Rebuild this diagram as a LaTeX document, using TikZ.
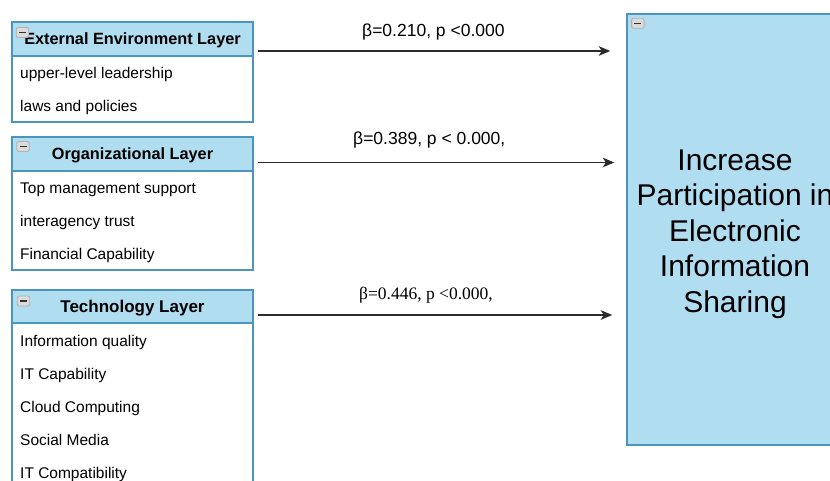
\documentclass[tikz,border=0pt]{standalone}
\usepackage{fontspec}
\setmainfont{Liberation Sans}
\newfontfamily\timesfont{Liberation Serif}
\usetikzlibrary{arrows.meta}
\definecolor{fillblue}{HTML}{B1DDF0}
\definecolor{strokeblue}{HTML}{4B96C0}
\definecolor{linegray}{HTML}{2B2B2B}
\begin{document}
\begin{tikzpicture}[x=1pt,y=-1pt,
  frame/.style={draw=strokeblue, line width=1.4pt, fill=white, minimum width=241pt,
    anchor=north west, inner sep=0pt, outer sep=0pt},
  hdr/.style={draw=strokeblue, line width=1.4pt, fill=fillblue, minimum width=241pt,
    minimum height=34pt, anchor=north west, inner sep=0pt, outer sep=0pt,
    text height=12pt, text depth=0pt,
    font=\fontsize{16.3}{19}\selectfont\bfseries},
  item/.style={anchor=base west, inner sep=0pt, font=\fontsize{15.5}{18}\selectfont},
  icon/.style={draw=gray!60, fill=gray!28, rounded corners=2pt, minimum width=12.5pt,
    minimum height=10pt, inner sep=0pt, line width=0.9pt,
    path picture={\draw[line width=1.5pt, black!80]
      ([xshift=-3.5pt]path picture bounding box.center) --
      ([xshift=3.5pt]path picture bounding box.center);}},
  outbox/.style={draw=strokeblue, line width=1.4pt, fill=fillblue, minimum width=216pt,
    minimum height=431pt, inner sep=0pt},
  outtext/.style={inner sep=0pt, align=center, font=\fontsize{30}{35.5}\selectfont},
  arr/.style={draw=linegray, line width=1.4pt, -{Stealth[length=11.5pt, width=9.5pt, inset=3pt]}},
  lbl/.style={anchor=base west, inner sep=0pt, font=\fontsize{17.5}{20}\selectfont}
]
\useasboundingbox (0,0) rectangle (830,481);
\clip (0,0) rectangle (830,481);
\fill[white] (0,0) rectangle (830,481);

% output box
\node[outbox] (out) at (735,229.5) {};
\node[outtext] (outt) at (735,234) {Increase\\Participation in\\Electronic\\Information\\Sharing};
\node[icon] (icout) at ([shift={(11.5,10)}]out.north west) {};

% External Environment Layer
\node[frame, minimum height=100pt] (ext) at (12,22) {};
\node[hdr] (exth) at (ext.north west) {External Environment Layer};
\node[icon] (ic1) at ([shift={(10.5,10.5)}]ext.north west) {};
\node[item] (e1) at ([shift={(8,56.3)}]ext.north west) {upper-level leadership};
\node[item] (e2) at ([shift={(8,89.3)}]ext.north west) {laws and policies};

% Organizational Layer
\node[frame, minimum height=133pt] (org) at (12,137) {};
\node[hdr] (orgh) at (org.north west) {Organizational Layer};
\node[icon] (ic2) at ([shift={(11,9.5)}]org.north west) {};
\node[item] (o1) at ([shift={(8,56.3)}]org.north west) {Top management support};
\node[item] (o2) at ([shift={(8,89.3)}]org.north west) {interagency trust};
\node[item] (o3) at ([shift={(8,122.3)}]org.north west) {Financial Capability};

% Technology Layer
\node[frame, minimum height=220pt] (tech) at (12,290) {};
\node[hdr, minimum height=33pt, font=\fontsize{17}{20}\selectfont\bfseries] (techh) at (tech.north west) {Technology Layer};
\node[icon] (ic3) at ([shift={(11.5,11)}]tech.north west) {};
\node[item] (t1) at ([shift={(8,56.3)}]tech.north west) {Information quality};
\node[item] (t2) at ([shift={(8,89.3)}]tech.north west) {IT Capability};
\node[item] (t3) at ([shift={(8,122.3)}]tech.north west) {Cloud Computing};
\node[item] (t4) at ([shift={(8,155.3)}]tech.north west) {Social Media};
\node[item] (t5) at ([shift={(8,188.3)}]tech.north west) {IT Compatibility};

% connectors
\draw[arr] ([xshift=5pt]ext.east |- 0,51) -- ([xshift=-16pt]out.west |- 0,51);
\draw[arr] ([xshift=5pt]org.east |- 0,162.5) -- ([xshift=-12pt]out.west |- 0,162.5);
\draw[arr] ([xshift=5pt]tech.east |- 0,315) -- ([xshift=-14pt]out.west |- 0,315);

% labels
\node[lbl] (l1) at (362,37) {β=0.210, p <0.000};
\node[lbl] (l2) at (353,145) {β=0.389, p < 0.000,};
\node[lbl, font=\fontsize{17.5}{20}\timesfont] (l3) at (359,299.5) {β=0.446, p <0.000,};
\end{tikzpicture}
\end{document}
